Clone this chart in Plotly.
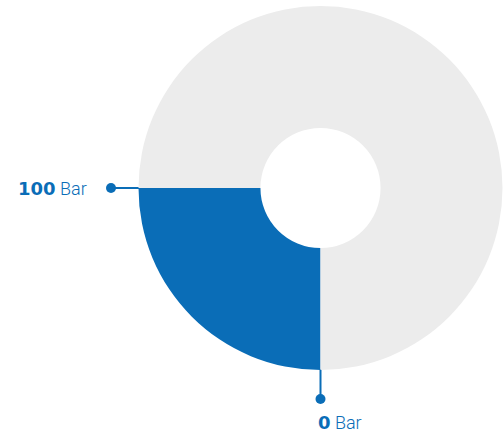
import plotly.graph_objects as go

labels = ["Value", "Remaining"]
values = [25, 75]
colors = ["#0a6db7", "#ececec"]
scale_labels = ["100", "0"]
unit = "Bar"

W, H = 503, 436
cx, cy, R = 320.5, 188, 182

fig = go.Figure()
fig.add_trace(go.Pie(
    labels=labels, values=values, hole=0.33, sort=False,
    direction="clockwise", rotation=180,
    marker=dict(colors=colors, line=dict(width=0)),
    textinfo="none", hoverinfo="skip", showlegend=False,
    domain=dict(x=[(cx - R) / W, min(1, (cx + R) / W)],
                y=[1 - (cy + R) / H, 1 - (cy - R) / H]),
))

# leader lines (pixel-based overlay axis)
fig.add_trace(go.Scatter(x=[111, cx - R + 1], y=[cy, cy], mode="lines",
                         line=dict(color=colors[0], width=2),
                         hoverinfo="skip", showlegend=False))
fig.add_trace(go.Scatter(x=[cx, cx], y=[cy + R - 1, 399], mode="lines",
                         line=dict(color=colors[0], width=2),
                         hoverinfo="skip", showlegend=False))
fig.add_trace(go.Scatter(x=[111, cx], y=[cy, 399], mode="markers",
                         marker=dict(color=colors[0], size=10),
                         hoverinfo="skip", showlegend=False))

num_style = "font-family:'DejaVu Sans';font-weight:bold"
fig.add_annotation(x=89, y=cy, xref="x", yref="y", xanchor="right", yanchor="middle",
                   text=f"<span style=\"{num_style}\">{scale_labels[0]}</span> {unit}",
                   showarrow=False,
                   font=dict(family="Roboto", size=18, weight=300, color=colors[0]))
fig.add_annotation(x=316, y=422, xref="x", yref="y", xanchor="left", yanchor="middle",
                   text=f"<span style=\"{num_style}\">{scale_labels[1]}</span> {unit}",
                   showarrow=False,
                   font=dict(family="Roboto", size=18, weight=300, color=colors[0]))

fig.update_layout(
    width=W, height=H, margin=dict(l=0, r=0, t=0, b=0),
    paper_bgcolor="white", plot_bgcolor="rgba(0,0,0,0)",
    xaxis=dict(range=[0, W], visible=False, domain=[0, 1], fixedrange=True),
    yaxis=dict(range=[H, 0], visible=False, domain=[0, 1], fixedrange=True),
)
fig.write_html("out.html", config={"displayModeBar": False},
               post_script="document.body.style.margin='0';")
